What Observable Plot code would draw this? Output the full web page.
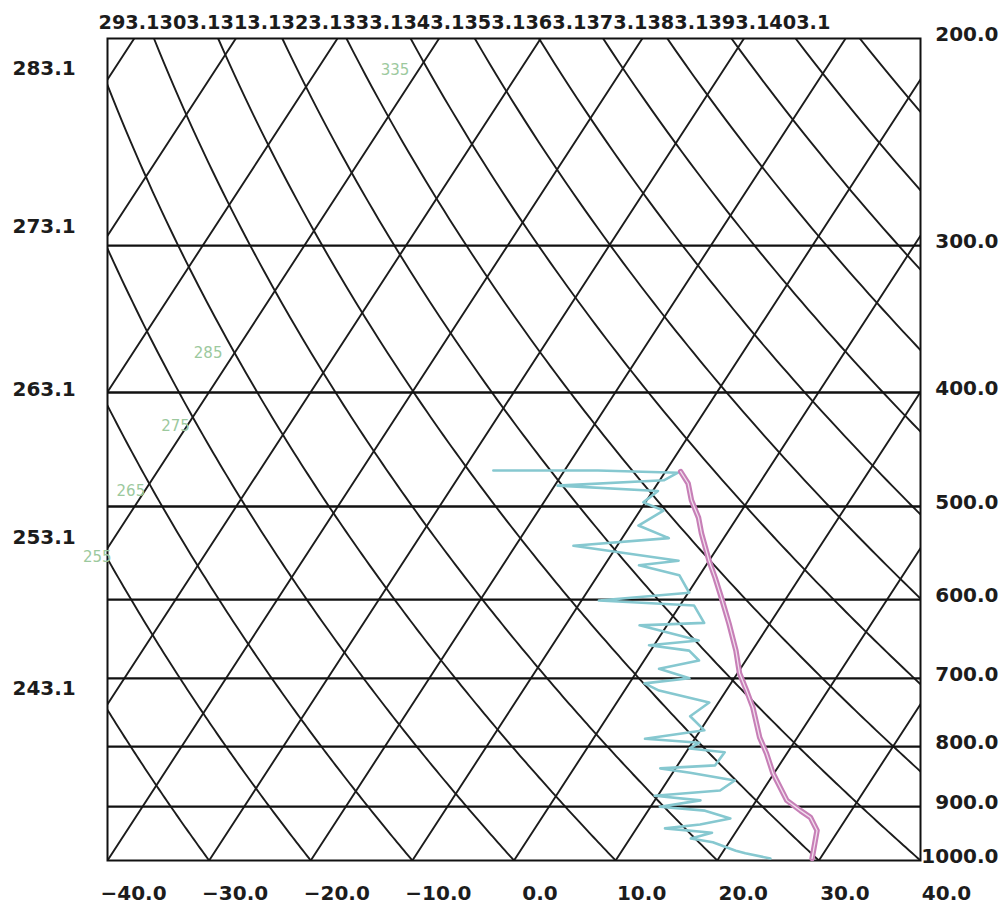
<!DOCTYPE html>
<html><head><meta charset="utf-8">
<script src="https://cdn.jsdelivr.net/npm/d3@7"></script>
<script src="https://cdn.jsdelivr.net/npm/@observablehq/plot@0.6"></script>
<style>
html,body{margin:0;padding:0;background:#fff;}
#chart svg{display:block;}
</style></head><body><div id="chart"></div>
<script>
// ---- axis / tick data ----
const tempTicks = [-40, -30, -20, -10, 0, 10, 20, 30, 40];
const tempTickLabels = ["\u221240.0", "\u221230.0", "\u221220.0", "\u221210.0", "0.0", "10.0", "20.0", "30.0", "40.0"];
const pressureTicks = [200, 300, 400, 500, 600, 700, 800, 900, 1000];
const pressureTickLabels = ["200.0", "300.0", "400.0", "500.0", "600.0", "700.0", "800.0", "900.0", "1000.0"];
const isobarLevels = [300, 400, 500, 600, 700, 800, 900];
const leftLabelText = ["283.1", "273.1", "263.1", "253.1", "243.1"];
const leftLabelPressure = [212, 289, 398, 531, 714];
const topLabelText = ["293.1", "303.1", "313.1", "323.1", "333.1", "343.1", "353.1", "363.1", "373.1", "383.1", "393.1", "403.1"];

// ---- diagram guide lines ----
const isothermTemps = [-90, -80, -70, -60, -50, -40, -30, -20, -10, 0, 10, 20, 30, 40];
const thetaValues = [243.15, 253.15, 263.15, 273.15, 283.15, 293.15, 303.15, 313.15, 323.15, 333.15, 343.15, 353.15, 363.15, 373.15, 383.15, 393.15, 403.15];

// ---- sounding: temperature ----
const tempP = [996, 943, 919, 907, 889, 843, 811, 786, 741, 717, 693, 663, 629, 598, 575, 556, 527, 511, 494, 478, 467];
const tempT = [29.2, 27.9, 26.4, 25.0, 23.0, 19.9, 18.0, 16.3, 13.7, 12.0, 10.2, 8.4, 6.0, 3.6, 1.7, 0.0, -2.5, -3.8, -5.6, -7.0, -8.5];

// ---- sounding: dew point ----
const dewP = [996, 986, 981, 965, 958, 947, 939, 932, 921, 907, 900, 889, 881, 872, 855, 842, 835, 830, 809, 803, 794, 788, 775, 754, 734, 717, 707, 700, 687, 676, 663, 656, 650, 631, 628, 607, 601, 592, 572, 561, 556, 540, 532, 519, 504, 496, 485, 480, 475, 468, 466, 466];
const dewT = [25.1, 22.3, 21.2, 18.4, 16.0, 17.7, 12.8, 16.0, 18.6, 15.6, 10.9, 14.5, 9.7, 15.8, 16.6, 11.7, 8.5, 13.7, 13.8, 10.1, 10.7, 5.1, 10.4, 8.1, 9.1, 3.4, 1.5, 5.6, 2.0, 5.4, 3.8, -0.5, 4.1, -2.7, 3.5, 1.4, -8.3, 0.1, -2.0, -6.6, -3.0, -14.3, -5.4, -9.2, -7.7, -10.2, -9.5, -19.7, -9.6, -8.7, -16.7, -27.0];

// ---- faint green curve labels ----
const greenLabelText = ["335", "285", "275", "265", "255"];
const greenLabelX = [-11.7, -30.1, -33.3, -37.7, -41.0];
const greenLabelP = [213, 370, 427, 485, 552];

// ---- build ----
const SKEW = 32.7, KAPPA = 0.2857;
const skewX = (t, p) => t + SKEW * Math.log(1000 / p);
const pGrid = d3.range(1000, 199, -5);

const isoData = isothermTemps.flatMap(t => [1000, 200].map(p => ({id: t, p, x: skewX(t, p)})));
const adiData = thetaValues.flatMap(th => pGrid.map(p => ({id: th, p, x: skewX(th * Math.pow(p / 1000, KAPPA) - 273.15, p)})));
const tempData = tempP.map((p, i) => ({p, x: skewX(tempT[i], p)}));
const dewData = dewP.map((p, i) => ({p, x: skewX(dewT[i], p)}));
const bottomTicks = tempTicks.map((v, i) => ({v, label: tempTickLabels[i]}));
const rightTicks = pressureTicks.map((v, i) => ({v, label: pressureTickLabels[i]}));
const leftLabels = leftLabelText.map((t, i) => ({t, p: leftLabelPressure[i]}));
const greenLabels = greenLabelText.map((t, i) => ({t, x: greenLabelX[i], p: greenLabelP[i]}));

const FONT = "'DejaVu Sans', sans-serif";
const ink = "#1c1c1c";
const tick = {fontSize: 20, fontWeight: "bold", fill: ink, lineAnchor: "middle"};

const chart = Plot.plot({
  width: 1003, height: 909,
  marginLeft: 107, marginRight: 83, marginTop: 38, marginBottom: 49,
  style: {background: "#fff", fontFamily: FONT},
  x: {domain: [-40, 40], axis: null},
  y: {type: "log", domain: [1000, 200], axis: null},
  marks: [
    Plot.line(isoData, {x: "x", y: "p", z: "id", stroke: ink, strokeWidth: 1.9, clip: true}),
    Plot.line(adiData, {x: "x", y: "p", z: "id", stroke: ink, strokeWidth: 1.9, clip: true}),
    Plot.ruleY(isobarLevels, {stroke: "#111", strokeWidth: 2.3}),
    Plot.frame({stroke: "#111", strokeWidth: 2}),
    Plot.text(greenLabels, {x: "x", y: "p", text: "t", fill: "#9cc99e", fontSize: 15}),
    Plot.line(dewData, {x: "x", y: "p", stroke: "#86c8d0", strokeWidth: 2.6, strokeLinejoin: "round"}),
    Plot.line(tempData, {x: "x", y: "p", stroke: "#c77fb7", strokeWidth: 5.5, strokeLinejoin: "round"}),
    Plot.line(tempData, {x: "x", y: "p", stroke: "#fff", strokeOpacity: 0.75, strokeWidth: 1.3, strokeLinejoin: "round"}),
    Plot.text(bottomTicks, {x: "v", text: "label", frameAnchor: "bottom", dy: 33, dx: 26, ...tick}),
    Plot.text(rightTicks, {y: "v", text: "label", frameAnchor: "right", dx: 78, dy: -4, textAnchor: "end", ...tick}),
    Plot.text(leftLabels, {y: "p", text: "t", frameAnchor: "left", dx: -95, textAnchor: "start", ...tick}),
    Plot.text([topLabelText.join("")], {text: d => d, frameAnchor: "top-left", dx: -9, dy: -16, textAnchor: "start", ...tick, fontSize: 19.3})
  ]
});
document.getElementById("chart").appendChild(chart);
</script>
</body></html>
